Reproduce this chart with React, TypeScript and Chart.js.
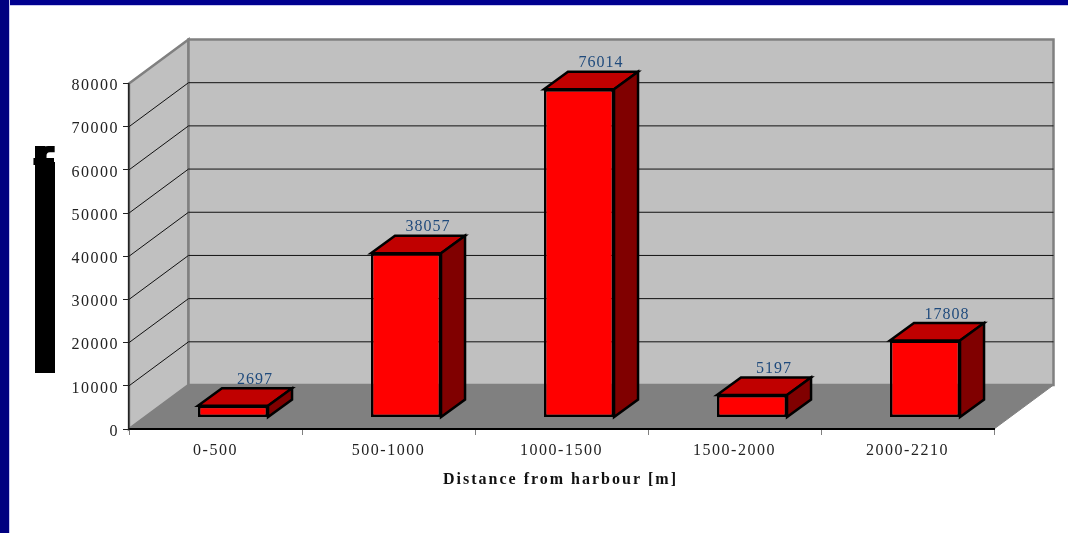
import { useEffect, useRef } from "react";
import { Chart, registerables } from "chart.js";

Chart.register(...registerables);

const distanceBands = ["0-500", "500-1000", "1000-1500", "1500-2000", "2000-2210"];
const counts = [2697, 38057, 76014, 5197, 17808];
const axisMax = 80000;
const axisStep = 10000;

const SERIF = "'Liberation Serif', serif";
const WALL_DEPTH = { x: 59.5, y: -44 };
const BAR_SHIFT = { x: 17.5, y: -11.5 };
const BAR_DEPTH = { x: 24, y: -17.5 };

function polygon(ctx: CanvasRenderingContext2D, pts: number[][], fill: string, stroke: string, width: number) {
  ctx.beginPath();
  pts.forEach(([x, y], i) => (i ? ctx.lineTo(x, y) : ctx.moveTo(x, y)));
  ctx.closePath();
  ctx.fillStyle = fill;
  ctx.fill();
  ctx.strokeStyle = stroke;
  ctx.lineWidth = width;
  ctx.lineJoin = "miter";
  ctx.stroke();
}

// Box walls, floor and receding gridlines behind the bars.
const wallsPlugin = {
  id: "walls",
  beforeDraw(chart: any) {
    const { ctx, chartArea: a, scales } = chart;
    const dx = WALL_DEPTH.x;
    const dy = WALL_DEPTH.y;
    ctx.save();
    polygon(ctx, [[a.left, a.top], [a.left + dx, a.top + dy], [a.left + dx, a.bottom + dy], [a.left, a.bottom]], "#c0c0c0", "#808080", 2.5);
    polygon(ctx, [[a.left + dx, a.top + dy], [a.right + dx, a.top + dy], [a.right + dx, a.bottom + dy], [a.left + dx, a.bottom + dy]], "#c0c0c0", "#808080", 2.5);
    polygon(ctx, [[a.left, a.bottom], [a.left + dx, a.bottom + dy], [a.right + dx, a.bottom + dy], [a.right, a.bottom]], "#808080", "#808080", 1);
    ctx.strokeStyle = "#111";
    ctx.lineWidth = 1;
    for (const t of scales.y.ticks) {
      if (t.value === 0 || t.value === axisMax) continue;
      const y = scales.y.getPixelForValue(t.value);
      ctx.beginPath();
      ctx.moveTo(a.left, y);
      ctx.lineTo(a.left + dx, y + dy);
      ctx.lineTo(a.right + dx, y + dy);
      ctx.stroke();
    }
    ctx.restore();
    // Wide tracking used by the tick labels.
    ctx.letterSpacing = "1.5px";
  },
  beforeDatasetDraw(chart: any) {
    chart.ctx.save();
    chart.ctx.translate(BAR_SHIFT.x, BAR_SHIFT.y);
  },
  afterDatasetDraw(chart: any, args: any) {
    const { ctx } = chart;
    const meta = chart.getDatasetMeta(args.index);
    const dx = BAR_DEPTH.x;
    const dy = BAR_DEPTH.y;
    meta.data.forEach((bar: any, i: number) => {
      const l = bar.x - bar.width / 2;
      const r = bar.x + bar.width / 2;
      polygon(ctx, [[l, bar.y], [l + dx, bar.y + dy], [r + dx, bar.y + dy], [r, bar.y]], "#c00000", "#000", 2.5);
      polygon(ctx, [[r, bar.y], [r + dx, bar.y + dy], [r + dx, bar.base + dy], [r, bar.base]], "#800000", "#000", 2.5);
      ctx.font = `16px ${SERIF}`;
      ctx.fillStyle = "#1f4a7c";
      ctx.textAlign = "center";
      ctx.textBaseline = "alphabetic";
      ctx.letterSpacing = "1px";
      ctx.fillText(String(counts[i]), bar.x + 22, bar.y + dy - 4.5);
    });
    ctx.restore();
  },
  afterDraw(chart: any) {
    const { ctx, chartArea: a } = chart;
    ctx.save();
    ctx.letterSpacing = "2px";
    ctx.font = `bold 16px ${SERIF}`;
    ctx.fillStyle = "#111";
    ctx.textAlign = "center";
    ctx.textBaseline = "alphabetic";
    ctx.fillText("Distance from harbour [m]", (a.left + a.right) / 2 - 1, 484);

    // Vertical axis caption: a heavy glyph whose stem runs down the left margin.
    ctx.fillStyle = "#000";
    ctx.fillRect(35, 162, 20, 211);
    ctx.fillRect(35, 146, 10, 16);
    ctx.letterSpacing = "0px";
    ctx.font = "bold 100px 'DejaVu Sans'";
    const m = ctx.measureText("f");
    const w = m.actualBoundingBoxLeft + m.actualBoundingBoxRight;
    const h = m.actualBoundingBoxAscent + m.actualBoundingBoxDescent;
    const sx = 22 / w;
    const sy = 42 / h;
    ctx.translate(33 + m.actualBoundingBoxLeft * sx, 146 + m.actualBoundingBoxAscent * sy);
    ctx.scale(sx, sy);
    ctx.fillText("f", 0, 0);
    ctx.restore();
  },
};

export default function App() {
  const ref = useRef<HTMLCanvasElement>(null);

  useEffect(() => {
    document.body.style.margin = "0";
    const chart = new Chart(ref.current as HTMLCanvasElement, {
      type: "bar",
      data: {
        labels: distanceBands,
        datasets: [
          {
            data: counts,
            backgroundColor: "#ff0000",
            borderColor: "#000",
            borderWidth: 2.5,
            borderSkipped: false,
            barPercentage: 1,
            categoryPercentage: 0.405,
            clip: false,
          } as any,
        ],
      },
      options: {
        responsive: false,
        animation: false,
        events: [],
        layout: { padding: { top: 83.5, right: 74, left: 0, bottom: 0 } },
        plugins: { legend: { display: false }, tooltip: { enabled: false } },
        scales: {
          x: {
            afterFit: (s: any) => { s.height = 104; },
            grid: { drawOnChartArea: false, tickLength: 6, tickColor: "#808080", tickWidth: 1 },
            border: { color: "#000", width: 2 },
            ticks: { color: "#222", font: { family: SERIF, size: 16 }, padding: 6, maxRotation: 0 },
          },
          y: {
            min: 0,
            max: axisMax,
            afterFit: (s: any) => {
              s.width = 129;
              // Serif digits sit high on a middle baseline, so nudge them onto their tick marks.
              if (!s.nudged) {
                s.nudged = true;
                const drawLabels = s.drawLabels;
                s.drawLabels = function (area: any) {
                  s.ctx.save();
                  s.ctx.translate(0, 2.5);
                  drawLabels.call(s, area);
                  s.ctx.restore();
                };
              }
            },
            grid: { drawOnChartArea: false, tickLength: 6, tickColor: "#222", tickWidth: 1 },
            border: { color: "#222", width: 1.5 },
            ticks: {
              stepSize: axisStep,
              color: "#222",
              font: { family: SERIF, size: 16 },
              padding: 4,
              callback: (v: any) => String(v),
            },
          },
        },
      },
      plugins: [wallsPlugin],
    } as any);
    return () => chart.destroy();
  }, []);

  return (
    <div style={{ position: "fixed", inset: 0, background: "#fff" }}>
      <div style={{ position: "absolute", left: 0, top: 0, right: 0, height: 5, background: "#000090", borderBottom: "1px solid #c8c8f0" }} />
      <div style={{ position: "absolute", left: 0, top: 0, bottom: 0, width: 9, background: "#000080", borderRight: "1px solid #c8c8f0" }} />
      <canvas ref={ref} width={1068} height={533} style={{ position: "absolute", left: 0, top: 0 }} />
    </div>
  );
}
